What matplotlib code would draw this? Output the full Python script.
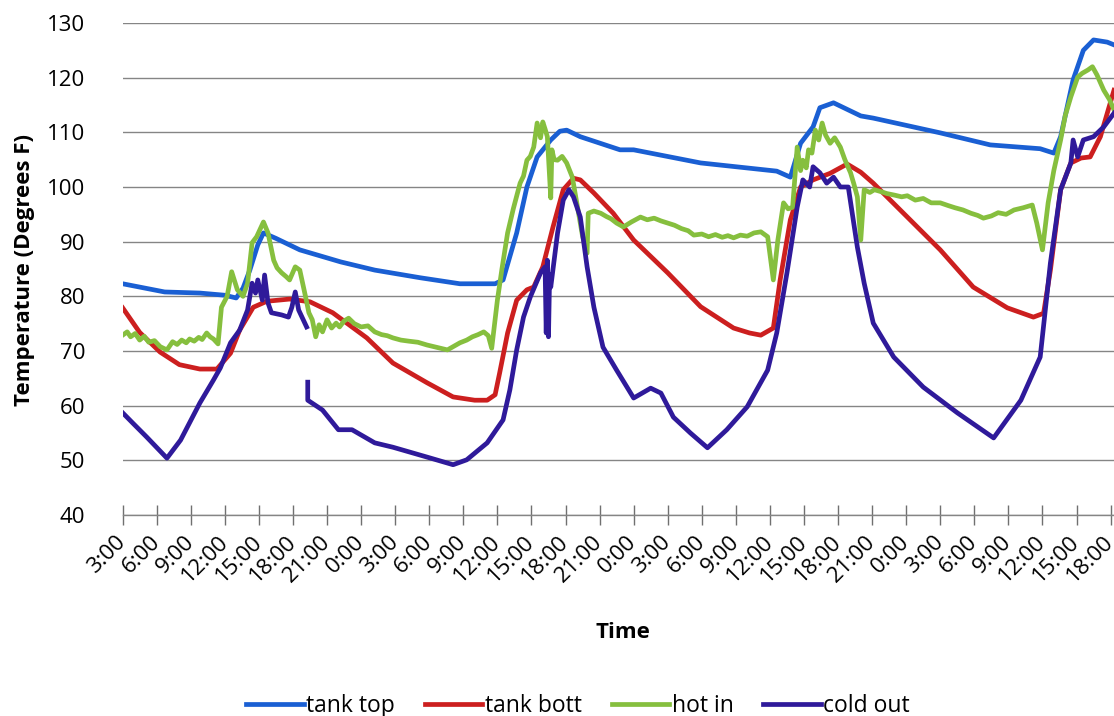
import matplotlib
matplotlib.use("Agg")
import matplotlib.pyplot as plt
import numpy as np

plt.rcParams['font.family'] = ['Open Sans', 'DejaVu Sans']

# Zeit in Stunden ab 3:00 des ersten Tages
tick_hours = list(range(0, 88, 3))
tick_labels = ["3:00", "6:00", "9:00", "12:00", "15:00", "18:00", "21:00", "0:00",
               "3:00", "6:00", "9:00", "12:00", "15:00", "18:00", "21:00", "0:00",
               "3:00", "6:00", "9:00", "12:00", "15:00", "18:00", "21:00", "0:00",
               "3:00", "6:00", "9:00", "12:00", "15:00", "18:00"]

# tank top
top_t = [0, 3.7, 6.8, 9.0, 10.0, 10.6, 11.2, 11.9, 12.4, 13.5, 15.6, 19.2, 22.2, 26.2, 29.7,
         32.8, 33.5, 34.7, 35.6, 36.5, 37.7, 38.5, 39.1, 40.3, 43.8, 45.0, 50.9, 57.6,
         58.8, 59.7, 60.8, 61.4, 62.6, 65.0, 66.1, 72.0, 76.4, 80.8, 82.0, 82.6, 83.7,
         84.6, 85.5, 86.7, 87.3]
top_v = [82.3, 80.8, 80.6, 80.2, 79.7, 81.5, 84.8, 89.4, 91.6, 90.6, 88.5, 86.3, 84.8, 83.4, 82.3,
         82.3, 83.0, 91.6, 100.0, 105.5, 108.6, 110.2, 110.4, 109.2, 106.8, 106.8, 104.4, 102.9,
         101.8, 108.0, 111.0, 114.5, 115.4, 113.0, 112.6, 109.9, 107.7, 107.0, 106.2, 109.2, 119.6,
         125.0, 126.9, 126.5, 126.0]

# tank bott
bott_t = [0, 1.5, 3.3, 5.0, 6.8, 8.3, 9.5, 10.3, 11.5, 12.7, 14.7, 16.5, 18.5, 21.5, 23.8, 26.8,
          29.1, 31.0, 32.1, 32.8, 33.2, 33.9, 34.7, 35.6, 36.2, 37.0, 37.9, 38.8, 39.7, 40.3,
          41.5, 43.2, 45.0, 48.0, 50.9, 53.8, 55.2, 56.2, 57.3, 57.9, 58.8, 59.7, 60.8, 62.3,
          63.8, 65.0, 66.1, 69.1, 72.0, 74.9, 77.9, 80.2, 81.1, 81.7, 82.6, 83.5, 84.4,
          85.2, 86.1, 87.3]
bott_v = [77.9, 73.4, 69.8, 67.5, 66.7, 66.7, 69.6, 73.8, 78.0, 79.1, 79.5, 79.0, 77.0, 72.4, 67.8, 64.2,
          61.6, 61.0, 61.0, 62.0, 66.0, 73.3, 79.3, 81.2, 81.7, 85.4, 92.7, 99.5, 101.6, 101.3,
          98.9, 95.2, 90.3, 84.3, 78.1, 74.2, 73.3, 72.9, 74.2, 83.0, 94.0, 100.0, 101.3, 102.5,
          104.2, 102.7, 100.7, 94.5, 88.5, 81.7, 77.9, 76.2, 76.9, 84.8, 99.5, 104.4, 105.3,
          105.5, 109.2, 117.7]

# hot in (Stunde, Temperatur)
hot_in = [(0, 72.9), (0.4, 73.5), (0.7, 72.6), (1.1, 73.2), (1.5, 72.0), (1.9, 72.7), (2.3, 71.6),
          (2.8, 71.9), (3.3, 70.8), (3.9, 70.2), (4.4, 71.7), (4.8, 71.2), (5.2, 72.0), (5.6, 71.5),
          (5.9, 72.2), (6.3, 71.8), (6.7, 72.5), (7.0, 72.1), (7.4, 73.3), (7.7, 72.6), (8.0, 72.2),
          (8.4, 71.3), (8.7, 78.0), (9.2, 80.0), (9.6, 84.5), (10.1, 81.2), (10.6, 80.0), (11.0, 82.4),
          (11.4, 89.8), (11.8, 90.9), (12.4, 93.6), (12.8, 91.6), (13.3, 86.6), (13.6, 85.2),
          (14.0, 84.3), (14.4, 83.6), (14.7, 83.0), (15.2, 85.4), (15.6, 84.8), (16.1, 80.0),
          (16.4, 77.0), (16.7, 75.7), (17.0, 72.6), (17.3, 74.8), (17.6, 73.5), (18.0, 75.7),
          (18.4, 74.2), (18.8, 75.1), (19.1, 74.4), (19.5, 75.5), (19.9, 76.0), (20.4, 75.0),
          (21.0, 74.4), (21.6, 74.6), (22.2, 73.5), (22.8, 73.0), (23.3, 72.8), (23.8, 72.4),
          (24.5, 72.0), (25.2, 71.8), (26.0, 71.6), (26.8, 71.1), (27.6, 70.7), (28.6, 70.2),
          (29.2, 70.9), (29.7, 71.5), (30.3, 72.0), (30.8, 72.6), (31.3, 73.0), (31.8, 73.5),
          (32.2, 72.8), (32.5, 70.5), (33.0, 79.3), (33.4, 85.0), (33.9, 91.6), (34.4, 96.0),
          (35.0, 100.7), (35.3, 102.0), (35.6, 104.9), (35.9, 105.6), (36.2, 107.3), (36.5, 111.7),
          (36.8, 109.0), (37.0, 111.9), (37.2, 110.6), (37.4, 109.2), (37.7, 98.0), (37.8, 106.8),
          (38.0, 105.0), (38.3, 104.9), (38.7, 105.6), (39.1, 104.4), (39.6, 101.8), (40.1, 95.8),
          (40.5, 91.0), (40.9, 87.9), (41.0, 95.2), (41.5, 95.6), (42.1, 95.2), (42.6, 94.6),
          (43.0, 94.2), (43.5, 93.4), (44.1, 92.7), (44.8, 93.6), (45.6, 94.5), (46.2, 94.0),
          (46.8, 94.3), (47.4, 93.8), (48.0, 93.4), (48.6, 93.0), (49.2, 92.4), (49.8, 92.0),
          (50.3, 91.2), (51.0, 91.4), (51.6, 90.9), (52.2, 91.3), (52.8, 90.8), (53.3, 91.1),
          (53.8, 90.7), (54.4, 91.2), (55.0, 91.0), (55.6, 91.6), (56.2, 91.8), (56.8, 90.9),
          (57.3, 83.0), (57.7, 90.3), (58.2, 97.1), (58.6, 96.0), (59.0, 96.3), (59.4, 107.3),
          (59.7, 103.0), (59.9, 104.9), (60.2, 103.5), (60.4, 106.8), (60.7, 106.2), (61.0, 110.4),
          (61.3, 108.6), (61.6, 111.7), (61.9, 109.5), (62.3, 108.0), (62.7, 109.0), (63.2, 107.3),
          (63.6, 105.0), (64.1, 102.6), (64.4, 100.5), (64.7, 98.2), (65.0, 90.3), (65.3, 99.5),
          (65.8, 99.0), (66.2, 99.5), (66.7, 99.2), (67.3, 98.8), (68.0, 98.5), (68.6, 98.2),
          (69.1, 98.4), (69.8, 97.6), (70.5, 97.9), (71.2, 97.1), (72.0, 97.1), (72.7, 96.6),
          (73.3, 96.2), (74.0, 95.8), (74.7, 95.2), (75.3, 94.8), (75.8, 94.3), (76.5, 94.7),
          (77.1, 95.3), (77.8, 95.0), (78.5, 95.8), (79.3, 96.2), (80.1, 96.7), (80.5, 93.4),
          (81.0, 88.5), (81.5, 97.1), (82.0, 103.0), (82.6, 108.6), (83.0, 113.0), (83.5, 116.5),
          (84.1, 120.1), (84.5, 120.8), (85.0, 121.4), (85.4, 122.0), (85.8, 120.5), (86.4, 117.7),
          (86.9, 116.0), (87.3, 114.1)]
hot_t = [p[0] for p in hot_in]
hot_v = [p[1] for p in hot_in]

# cold out (Lücke im Messverlauf)
cold_t = [0, 0.9, 2.1, 3.9, 5.1, 6.8, 8.0, 8.6, 9.5, 10.3, 11.0, 11.4, 11.7, 11.9, 12.3,
          12.5, 12.8, 13.1, 14.0, 14.6, 14.9, 15.2, 15.5, 16.2, 16.25,
          16.3, 16.3, 17.6, 19.0, 20.2, 22.2, 23.8, 26.8, 29.1, 30.3, 32.1, 33.5, 34.1,
          34.7, 35.3, 35.9, 36.8, 37.2, 37.3, 37.4, 37.5, 37.6, 37.7, 38.3, 38.8, 39.3,
          39.7, 40.3, 40.9, 41.5, 42.3, 43.5, 45.0, 46.5, 47.4, 48.5, 50.0, 51.5, 53.2,
          55.0, 56.8, 57.6, 58.5, 59.4, 59.9, 60.5, 60.8, 61.4, 62.0, 62.6, 63.2, 63.9,
          64.7, 65.3, 66.1, 67.9, 70.5, 73.5, 76.7, 79.1, 80.8, 81.7, 82.6, 83.5, 83.7,
          84.1, 84.6, 85.5, 86.4, 87.3]
cold_v = [58.7, 56.8, 54.3, 50.4, 53.7, 60.5, 64.7, 66.9, 71.5, 73.8, 77.5, 82.4, 80.6, 83.0, 79.3,
          83.9, 78.8, 77.0, 76.6, 76.2, 78.0, 80.8, 77.5, 74.4, np.nan,
          64.3, 61.0, 59.2, 55.6, 55.6, 53.2, 52.4, 50.6, 49.2, 50.1, 53.2, 57.4, 62.9,
          70.2, 76.2, 79.9, 84.3, 85.4, 73.3, 86.6, 72.6, 84.0, 81.7, 91.6, 97.6, 99.5,
          98.2, 94.5, 85.4, 78.0, 70.7, 66.5, 61.4, 63.2, 62.3, 57.9, 55.0, 52.3, 55.6,
          59.8, 66.5, 73.3, 84.3, 96.3, 101.3, 100.0, 103.7, 102.6, 100.7, 101.8, 100.0, 100.0,
          89.0, 82.4, 75.1, 68.9, 63.4, 58.7, 54.1, 61.0, 68.9, 86.1, 99.5, 104.4, 108.6,
          105.5, 108.6, 109.2, 111.0, 113.5]

fig = plt.figure(figsize=(11.14, 7.16), dpi=100)
ax = fig.add_axes([0.1101, 0.2807, 0.8899, 0.6872])

ax.plot(top_t, top_v, color='#1a5fd3', lw=3.4, label='tank top')
ax.plot(bott_t, bott_v, color='#cc1f1f', lw=3.4, label='tank bott')
ax.plot(hot_t, hot_v, color='#86bf3e', lw=3.4, label='hot in')
ax.plot(cold_t, cold_v, color='#2f1a9a', lw=3.4, label='cold out')

ax.set_xlim(0, 87.3)
ax.set_ylim(40, 130)
ax.set_yticks(range(40, 131, 10))
ax.yaxis.grid(True, color='#858585', lw=1.0)
ax.set_axisbelow(True)

for s in ['top', 'right', 'left']:
    ax.spines[s].set_visible(False)
ax.spines['bottom'].set_color('#858585')
ax.spines['bottom'].set_linewidth(1.0)

ax.set_xticks(tick_hours)
ax.set_xticklabels(tick_labels, rotation=45, ha='right', va='center',
                   rotation_mode='anchor', fontsize=16)
ax.tick_params(axis='x', direction='inout', length=14, width=1.0,
               color='#707070', pad=10)
ax.tick_params(axis='y', length=0, pad=27, labelsize=16)

ax.set_xlabel('Time', fontsize=16, fontweight='bold', va='center')
ax.xaxis.set_label_coords(0.505, -0.238)
ax.set_ylabel('Temperature (Degrees F)', fontsize=16, fontweight='bold', va='center')
ax.yaxis.set_label_coords(-0.0986, 0.498)

fig.legend(loc='lower center', bbox_to_anchor=(0.519, -0.031), ncol=4,
           frameon=False, fontsize=16.5, handlelength=2.5, handletextpad=0.12,
           columnspacing=1.3)

fig.savefig('out.png', dpi=100)
